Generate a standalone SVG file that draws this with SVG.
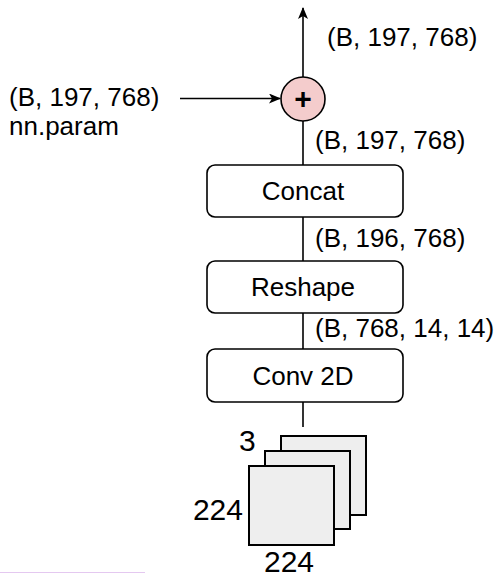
<svg xmlns="http://www.w3.org/2000/svg" width="501" height="574" viewBox="0 0 501 574">
  <style>
    text { font-family: "Liberation Sans", Arial, Helvetica, sans-serif; fill: #000; }
    .lbl { font-size: 26px; }
    .dim { font-size: 30px; }
    .box { fill: #ffffff; stroke: #000; stroke-width: 1.6; }
    .box-text { font-size: 26px; text-anchor: middle; }
    .wire { fill: none; stroke: #000; stroke-width: 1.6; }
    .sheet { fill: #eeeeee; stroke: #000; stroke-width: 2; }
  </style>
  <defs>
    <marker id="arrow" viewBox="0 0 12 10" refX="11" refY="5" markerWidth="12" markerHeight="10" markerUnits="userSpaceOnUse" orient="auto">
      <path d="M0,0 L12,5 L0,10 L3,5 Z" fill="#000"/>
    </marker>
  </defs>

  <!-- connectors -->
  <g id="connectors">
    <line class="wire" x1="303" y1="77" x2="303" y2="8" marker-end="url(#arrow)"/>
    <line class="wire" x1="180" y1="98.5" x2="280" y2="98.5" marker-end="url(#arrow)"/>
    <line class="wire" x1="303" y1="121" x2="303" y2="165"/>
    <line class="wire" x1="303" y1="217" x2="303" y2="261"/>
    <line class="wire" x1="303" y1="313" x2="303" y2="349"/>
    <line class="wire" x1="303" y1="402" x2="303" y2="427"/>
  </g>

  <!-- tensor shape labels along the wires -->
  <g id="labels">
    <text class="lbl" x="327" y="46">(B, 197, 768)</text>
    <text class="lbl" x="9" y="106">(B, 197, 768)</text>
    <text class="lbl" x="9" y="135">nn.param</text>
    <text class="lbl" x="315" y="149">(B, 197, 768)</text>
    <text class="lbl" x="315" y="247">(B, 196, 768)</text>
    <text class="lbl" x="315" y="337">(B, 768, 14, 14)</text>
  </g>

  <!-- residual add -->
  <g id="add">
    <circle cx="303" cy="99" r="22" fill="#f4cccc" stroke="#000" stroke-width="1.6"/>
    <text x="303" y="109" font-size="30" font-weight="bold" text-anchor="middle">+</text>
  </g>

  <g id="concat">
    <rect class="box" x="207" y="165" width="196" height="52" rx="8"/>
    <text class="box-text" x="303" y="200">Concat</text>
  </g>

  <g id="reshape">
    <rect class="box" x="207" y="261" width="196" height="52" rx="8"/>
    <text class="box-text" x="303" y="296">Reshape</text>
  </g>

  <g id="conv2d">
    <rect class="box" x="207" y="349" width="196" height="53" rx="8"/>
    <text class="box-text" x="303" y="385">Conv 2D</text>
  </g>

  <!-- input image: 3 channels of 224 x 224 -->
  <g id="input">
    <rect class="sheet" x="281" y="436" width="85" height="79"/>
    <rect class="sheet" x="265" y="451" width="85" height="78"/>
    <rect class="sheet" x="249" y="466" width="85" height="79"/>
    <text class="dim" x="239" y="451">3</text>
    <text class="dim" x="243" y="520" text-anchor="end">224</text>
    <text class="dim" x="289" y="572" text-anchor="middle">224</text>
  </g>

  <line x1="0" y1="572.5" x2="145" y2="572.5" stroke="#e4c8f0" stroke-width="1"/>
</svg>
